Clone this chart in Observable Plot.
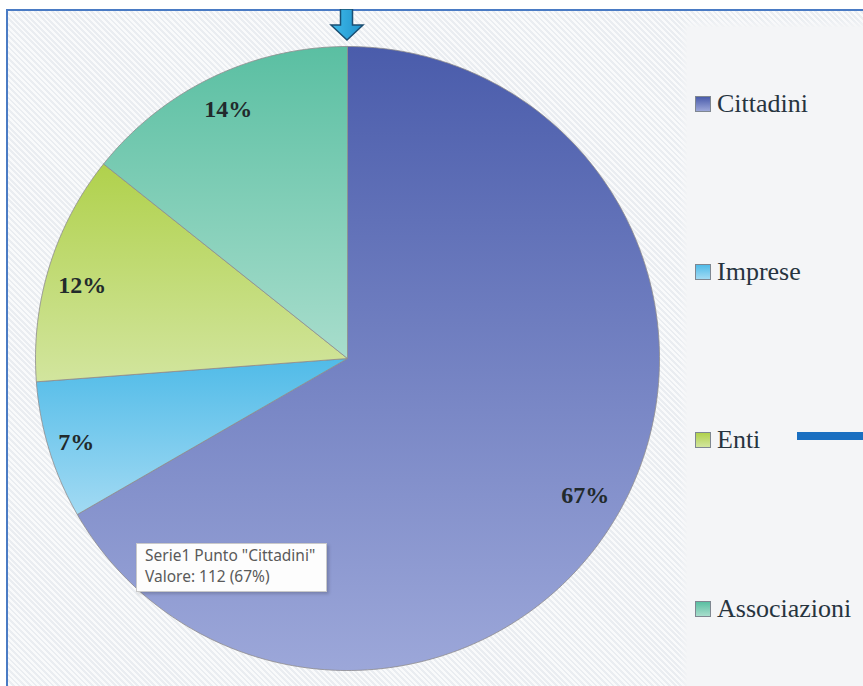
<!DOCTYPE html>
<html>
<head>
<meta charset="utf-8">
<script src="https://cdn.jsdelivr.net/npm/d3@7"></script>
<script src="https://cdn.jsdelivr.net/npm/@observablehq/plot@0.6"></script>
<style>
  html, body { margin: 0; padding: 0; background: #ffffff; }
  #wrap { position: relative; width: 863px; height: 686px; overflow: hidden; background: #ffffff; }
  #frame { position: absolute; left: 6px; top: 9px; right: -4px; bottom: -4px;
           border-top: 2px solid #4a7bc4; border-left: 2px solid #4a7bc4;
           background: repeating-linear-gradient(45deg, #f9fafb 0px, #f9fafb 2px, #eaedf1 2px, #eaedf1 4px); }
  #panel { position: absolute; left: 687px; top: 27px; width: 190px; height: 680px;
           background: #f4f5f7; box-shadow: 0 0 6px 3px #f4f5f7; }
  #chart { position: absolute; left: 0; top: 0; }
  .leg { position: absolute; left: 695px; font-family: "Liberation Serif", serif;
         font-size: 26px; color: #27343f; white-space: nowrap; line-height: 1; }
  .leg .sw { display: inline-block; width: 14px; height: 14px; border: 1px solid #7f8791;
             margin-right: 6px; vertical-align: baseline; }
  #tip { position: absolute; left: 136px; top: 543px; width: 191px; height: 49px; box-sizing: border-box;
         background: #fdfdfd; border: 1px solid #c9c9c9; box-shadow: 2px 2px 3px rgba(0,0,0,0.18);
         font-family: "Noto Sans", sans-serif; font-size: 15.5px; color: #5a5a5a;
         padding: 1px 0 0 8px; line-height: 21px; white-space: nowrap; }
  #bar { position: absolute; left: 797px; top: 432px; width: 70px; height: 8px; background: #1a6fc1; }
  #arrow { position: absolute; left: 327px; top: 9px; }
</style>
</head>
<body>
<div id="wrap">
  <div id="frame"></div>
  <div id="panel"></div>
  <div id="bar"></div>
  <svg id="arrow" width="40" height="36" viewBox="0 0 40 36">
    <defs>
      <linearGradient id="arrowGrad" x1="0" y1="0" x2="1" y2="0">
        <stop offset="0" stop-color="#3fbaea"/>
        <stop offset="1" stop-color="#2093cc"/>
      </linearGradient>
    </defs>
    <path d="M13.5,0 L25.5,0 L25.5,16 L36,16 L20,31 L4,16 L13.5,16 Z" fill="url(#arrowGrad)" stroke="#1b4f73" stroke-width="1.5" stroke-linejoin="miter"/>
  </svg>
  <svg width="0" height="0" style="position:absolute">
    <defs id="gradDefs"></defs>
  </svg>
  <div id="chart"></div>
  <div id="legend"></div>
  <div id="tip"></div>
</div>
<script>
// ---- data ----
const categories = ["Cittadini", "Imprese", "Enti", "Associazioni"];
const values = [112, 12, 20, 24];
const seriesName = "Serie1";

// ---- styles ----
const topColors = ["#4a5cab", "#50bbe8", "#b0d14c", "#5abfa2"];
const bottomColors = ["#9ca7d9", "#a2daf3", "#d2e59e", "#a8ddcc"];
const labelR = [0.88, 0.91, 0.89, 0.88];
const labelDy = [0, 0, 9, -2];

const total = d3.sum(values);
const pctLabel = v => Math.round(v / total * 100) + "%";

// gradients
const defs = d3.select("#gradDefs");
categories.forEach((c, i) => {
  const g = defs.append("linearGradient").attr("id", "g" + i)
    .attr("x1", 0).attr("y1", 0).attr("x2", 0).attr("y2", 1);
  g.append("stop").attr("offset", 0).attr("stop-color", topColors[i]);
  g.append("stop").attr("offset", 1).attr("stop-color", bottomColors[i]);
});

// pie geometry in unit-circle coordinates (y up), angles clockwise from top
const arcs = d3.pie().sort(null).value(d => d)(values);
const slices = arcs.map((a) => {
  const pts = [{x: 0, y: 0}];
  const n = Math.max(4, Math.ceil((a.endAngle - a.startAngle) / (Math.PI / 180)));
  for (let k = 0; k <= n; k++) {
    const t = a.startAngle + (a.endAngle - a.startAngle) * k / n;
    pts.push({x: Math.sin(t), y: Math.cos(t)});
  }
  pts.push({x: 0, y: 0});
  return pts;
});
const labels = arcs.map((a, i) => {
  const m = (a.startAngle + a.endAngle) / 2;
  return {x: labelR[i] * Math.sin(m), y: labelR[i] * Math.cos(m), text: pctLabel(values[i])};
});

const chart = Plot.plot({
  width: 863,
  height: 686,
  margin: 0,
  style: {background: "none", overflow: "visible"},
  x: {domain: [-1, 1], range: [35, 659], axis: null},
  y: {domain: [-1, 1], range: [670, 46], axis: null},
  marks: [
    ...slices.map((pts, i) => Plot.line(pts, {
      x: "x", y: "y", fill: `url(#g${i})`, stroke: "#8e8b8d", strokeWidth: 0.8, strokeLinejoin: "round"
    })),
    ...labels.map((l, i) => Plot.text([l], {
      x: "x", y: "y", text: "text", dy: labelDy[i],
      fontFamily: "Liberation Serif", fontWeight: "bold", fontSize: 24, fill: "#222a2c"
    }))
  ]
});
document.getElementById("chart").appendChild(chart);

// legend
const legendTops = [91, 259, 427, 596];
const legend = document.getElementById("legend");
categories.forEach((c, i) => {
  const d = document.createElement("div");
  d.className = "leg";
  d.style.top = legendTops[i] + "px";
  const sw = document.createElement("span");
  sw.className = "sw";
  sw.style.background = `linear-gradient(${topColors[i]}, ${bottomColors[i]})`;
  d.appendChild(sw);
  d.appendChild(document.createTextNode(c));
  legend.appendChild(d);
});

// tooltip
const tip = document.getElementById("tip");
const l1 = document.createElement("div");
l1.textContent = `${seriesName} Punto "${categories[0]}"`;
const l2 = document.createElement("div");
l2.textContent = `Valore: ${values[0]} (${pctLabel(values[0])})`;
tip.appendChild(l1); tip.appendChild(l2);
</script>
</body>
</html>
